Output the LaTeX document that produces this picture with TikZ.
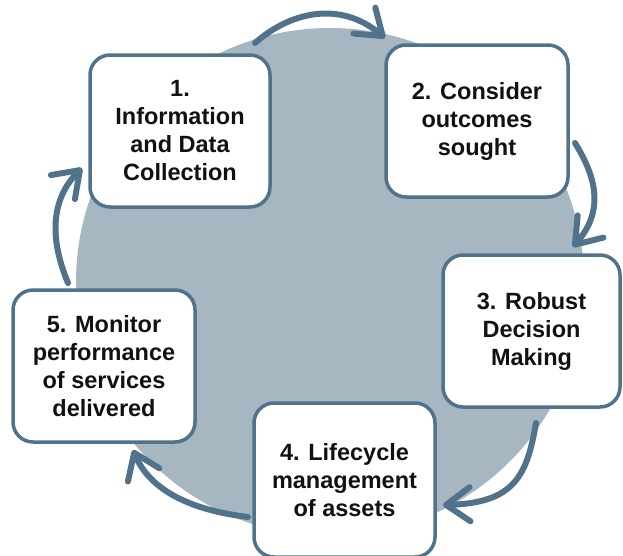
\documentclass[tikz,border=0pt]{standalone}
\usepackage{fontspec}
\setmainfont{Liberation Sans}
\usetikzlibrary{arrows.meta}
\definecolor{edge}{RGB}{80,114,138}
\definecolor{disc}{RGB}{167,183,193}
\definecolor{ink}{RGB}{17,17,17}
\begin{document}
\begin{tikzpicture}[x=1pt,y=-1pt,
  stepbox/.style={draw=edge, fill=white, line width=3.5pt, rectangle, rounded corners=20pt,
    align=center, text=ink, font=\bfseries\fontsize{23.5}{28}\selectfont, inner sep=0pt},
  cyc/.style={draw=edge, line width=6pt, line cap=round,
    -{Straight Barb[length=24pt,width=34pt,line cap=round,line join=round]}}]
\useasboundingbox (0,0) rectangle (623,555);
\clip (0,0) rectangle (623,555);
\fill[disc] (330,282) circle[radius=254];
\node[stepbox, minimum width=180pt, minimum height=152pt] (n1) at (180,131)
  {1.\\Information\\and Data\\Collection};
\node[stepbox, minimum width=182pt, minimum height=152pt] (n2) at (477,121)
  {2. Consider\\outcomes\\sought};
\node[stepbox, minimum width=177pt, minimum height=152pt] (n3) at (531.5,331)
  {3. Robust\\Decision\\Making};
\node[stepbox, minimum width=181pt, minimum height=154pt] (n4) at (344.5,480)
  {4. Lifecycle\\management\\of assets};
\node[stepbox, minimum width=182pt, minimum height=152pt] (n5) at (104,366)
  {5. Monitor\\performance\\of services\\delivered};
\coordinate (a1s) at (255,43);  \coordinate (a1e) at (385,38);
\coordinate (a2s) at (575,143); \coordinate (a2e) at (573,247);
\coordinate (a3s) at (536,423); \coordinate (a3e) at (443,505);
\coordinate (a4s) at (248,517); \coordinate (a4e) at (133,450);
\coordinate (a5s) at (68,283);  \coordinate (a5e) at (82,168);
\draw[cyc] (a1s) .. controls (290,12) and (340,0) .. (a1e);
\draw[cyc] (a2s) .. controls (598,180) and (603,212) .. (a2e);
\draw[cyc] (a3s) .. controls (527,475) and (515,503) .. (a3e);
\draw[cyc] (a4s) .. controls (190,510) and (150,490) .. (a4e);
\draw[cyc] (a5s) .. controls (50,240) and (50,200) .. (a5e);
\end{tikzpicture}
\end{document}
